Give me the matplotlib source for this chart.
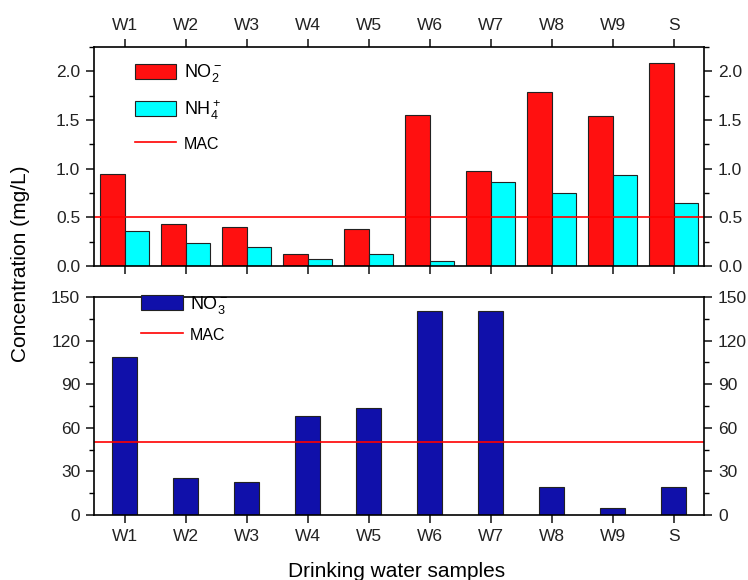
import matplotlib
matplotlib.use("Agg")
import matplotlib.pyplot as plt
import numpy as np
from matplotlib.ticker import MultipleLocator, FormatStrFormatter

plt.rcParams['font.family'] = ['Liberation Sans', 'DejaVu Sans']
plt.rcParams['mathtext.fontset'] = 'custom'
plt.rcParams['mathtext.rm'] = 'Liberation Sans'
plt.rcParams['mathtext.it'] = 'Liberation Sans'

samples = ['W1', 'W2', 'W3', 'W4', 'W5', 'W6', 'W7', 'W8', 'W9', 'S']
no2 = [0.95, 0.43, 0.40, 0.12, 0.38, 1.55, 0.98, 1.79, 1.54, 2.09]
nh4 = [0.36, 0.24, 0.20, 0.075, 0.12, 0.05, 0.86, 0.75, 0.93, 0.645]
no3 = [109, 25.5, 22.7, 68, 73.6, 140, 140, 19, 5, 19.3]
mac_top = 0.5
mac_bottom = 50

RED = '#FF1010'
CYAN = '#00FFFF'
NAVY = '#1010AA'
EDGE = '#222222'

fig = plt.figure(figsize=(7.48, 5.80), dpi=100)
ax1 = fig.add_axes([0.1257, 0.5414, 0.8155, 0.3776])
ax2 = fig.add_axes([0.1257, 0.1121, 0.8155, 0.3759])

x = np.arange(len(samples))
w = 0.4

b1 = ax1.bar(x - w/2, no2, w, color=RED, edgecolor=EDGE, linewidth=0.8, label=r'NO$_2^-$')
b2 = ax1.bar(x + w/2, nh4, w, color=CYAN, edgecolor=EDGE, linewidth=0.8, label=r'NH$_4^+$')
l1 = ax1.axhline(mac_top, color='red', linewidth=1.2, label='MAC')
ax1.set_xlim(-0.5, 9.5)
ax1.set_ylim(0, 2.25)
ax1.yaxis.set_major_locator(MultipleLocator(0.5))
ax1.yaxis.set_minor_locator(MultipleLocator(0.25))
ax1.yaxis.set_major_formatter(FormatStrFormatter('%.1f'))
ax1.set_xticks(x)
ax1.set_xticklabels(samples)
ax1.tick_params(axis='x', top=True, bottom=True, labeltop=True, labelbottom=False)
ax1.tick_params(axis='y', left=True, right=True, labelleft=True, labelright=True)

b3 = ax2.bar(x, no3, w, color=NAVY, edgecolor=EDGE, linewidth=0.8, label=r'NO$_3^-$')
l2 = ax2.axhline(mac_bottom, color='red', linewidth=1.2, label='MAC')
ax2.set_xlim(-0.5, 9.5)
ax2.set_ylim(0, 150)
ax2.yaxis.set_major_locator(MultipleLocator(30))
ax2.yaxis.set_minor_locator(MultipleLocator(15))
ax2.set_xticks(x)
ax2.set_xticklabels(samples)
ax2.tick_params(axis='x', top=False, bottom=True)
ax2.tick_params(axis='y', left=True, right=True, labelleft=True, labelright=True)

for ax in (ax1, ax2):
    for s in ax.spines.values():
        s.set_linewidth(1.2)
    ax.tick_params(which='major', direction='out', length=6, width=1.2, labelsize=12.5,
                   colors='#222222', pad=4)
    ax.tick_params(which='minor', direction='out', length=3.5, width=1.0)
    ax.tick_params(axis='y', which='minor', left=True, right=True)
    ax.tick_params(axis='x', which='minor', bottom=False, top=False)

leg1 = ax1.legend([b1, b2, l1], [r'NO$_2^-$', r'NH$_4^+$', 'MAC'],
                  loc='upper left', bbox_to_anchor=(0.067, 0.93), frameon=False,
                  fontsize=13, handlelength=2.3, handleheight=0.9, labelspacing=0.75,
                  borderpad=0, borderaxespad=0, handletextpad=0.4)
leg1.get_texts()[2].set_fontsize(11.5)
leg2 = ax2.legend([b3, l2], [r'NO$_3^-$', 'MAC'],
                  loc='upper left', bbox_to_anchor=(0.077, 1.015), frameon=False,
                  fontsize=13, handlelength=2.3, handleheight=0.9, labelspacing=0.6,
                  borderpad=0, borderaxespad=0, handletextpad=0.4)
leg2.get_texts()[1].set_fontsize(11.5)

fig.text(0.028, 0.545, 'Concentration (mg/L)', rotation=90, va='center', ha='center', fontsize=15)
fig.text(0.53, 0.015, 'Drinking water samples', ha='center', va='center', fontsize=15)

fig.savefig('out.png', dpi=100)
